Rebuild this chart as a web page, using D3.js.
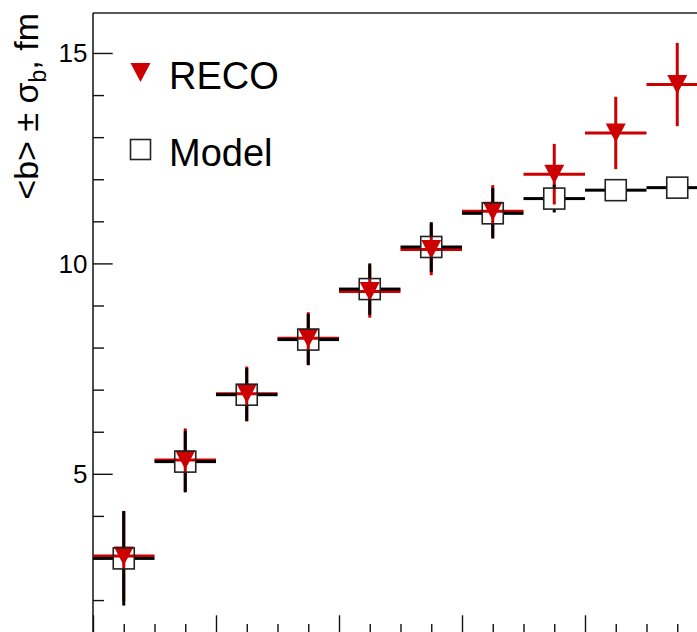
<!DOCTYPE html>
<html>
<head>
<meta charset="utf-8">
<script src="https://cdn.jsdelivr.net/npm/d3@7"></script>
<style>
  html, body { margin: 0; padding: 0; background: #fff; }
  svg { display: block; font-family: "Liberation Sans", Arial, Helvetica, sans-serif; }
</style>
</head>
<body>
<svg id="chart" width="697" height="632"></svg>
<script>
// ---- data ----
const binCenters   = [2.5, 7.5, 12.5, 17.5, 22.5, 27.5, 32.5, 37.5, 42.5, 47.5];
const binHalfWidth = 2.5;
const recoValues   = [3.05, 5.33, 6.90, 8.22, 9.33, 10.33, 11.24, 12.12, 13.10, 14.25];
const recoErrors   = [1.07, 0.75, 0.65, 0.62, 0.62, 0.61, 0.62, 0.72, 0.86, 0.99];
const modelValues  = [2.99, 5.29, 6.88, 8.19, 9.39, 10.39, 11.19, 11.54, 11.74, 11.80];
const modelErrors  = [1.12, 0.73, 0.63, 0.61, 0.61, 0.59, 0.60, 0.33, 0.20, 0.20];
const yTickLabels  = [5, 10, 15];
const legendLabels = ["RECO", "Model"];

const RED = "#cc0000";
const svg = d3.select("#chart");

const x = d3.scaleLinear().domain([0, 50]).range([93, 708]);
const y = d3.scaleLinear().domain([1.17, 15.95]).range([635, 13]);

// ---- frame ----
svg.append("line").attr("x1", x(0)).attr("x2", x(50)).attr("y1", y.range()[1]).attr("y2", y.range()[1])
  .attr("stroke", "#222").attr("stroke-width", 1.4);

// y axis
const yAxis = d3.axisRight(y).tickValues(yTickLabels).tickSize(19.7).tickFormat("");
const gy = svg.append("g").attr("transform", `translate(${x(0)},0)`).call(yAxis);
gy.select(".domain").remove();
gy.selectAll(".tick line").attr("stroke", "#111").attr("stroke-width", 1.4);
const yMinor = d3.axisRight(y).tickValues(d3.range(2, 16).filter(v => !yTickLabels.includes(v))).tickSize(11).tickFormat("");
const gym = svg.append("g").attr("transform", `translate(${x(0)},0)`).call(yMinor);
gym.select(".domain").remove();
gym.selectAll(".tick line").attr("stroke", "#111").attr("stroke-width", 1.4);
svg.append("line").attr("x1", x(0)).attr("x2", x(0)).attr("y1", y.range()[1]).attr("y2", y.range()[0])
  .attr("stroke", "#111").attr("stroke-width", 1.5);

// y tick labels
svg.append("g").selectAll("text").data(yTickLabels).join("text")
  .attr("x", 87.5).attr("y", d => y(d)).attr("dy", "0.36em")
  .attr("text-anchor", "end").attr("font-size", 26).attr("fill", "#000")
  .text(d => d);

// x axis ticks (axis line itself is just below the visible area)
const xAxis = d3.axisTop(x).tickValues([0, 10, 20, 30, 40]).tickSize(19.7).tickFormat("");
const gx = svg.append("g").attr("transform", `translate(0,${y.range()[0]})`).call(xAxis);
gx.select(".domain").remove();
gx.selectAll(".tick line").attr("stroke", "#111").attr("stroke-width", 1.4);
const xMinor = d3.axisTop(x).tickValues(d3.range(2.5, 50, 2.5).filter(v => v % 10 !== 0)).tickSize(11).tickFormat("");
const gxm = svg.append("g").attr("transform", `translate(0,${y.range()[0]})`).call(xMinor);
gxm.select(".domain").remove();
gxm.selectAll(".tick line").attr("stroke", "#111").attr("stroke-width", 1.4);
svg.append("line").attr("x1", x(0)).attr("x2", x(50)).attr("y1", y.range()[0]).attr("y2", y.range()[0])
  .attr("stroke", "#111").attr("stroke-width", 1.5);

// y title
const yt = svg.append("text")
  .attr("transform", `translate(38,13) rotate(-90)`)
  .attr("text-anchor", "end").attr("font-size", 34).attr("fill", "#000");
yt.append("tspan").text("<b> \u00b1 \u03c3");
yt.append("tspan").attr("font-size", 23).attr("dy", 8).text("b");
yt.append("tspan").attr("dy", -8).text(", fm");

// ---- data layers ----
const plot = svg.append("g");
const recoData  = binCenters.map((c, i) => ({ c, v: recoValues[i],  e: recoErrors[i] }));
const modelData = binCenters.map((c, i) => ({ c, v: modelValues[i], e: modelErrors[i] }));

// RECO (red): full error bars + filled down-triangle
const gr = plot.append("g");
gr.selectAll("line.h").data(recoData).join("line").attr("class", "h")
  .attr("x1", d => x(d.c - binHalfWidth)).attr("x2", d => x(d.c + binHalfWidth))
  .attr("y1", d => y(d.v)).attr("y2", d => y(d.v))
  .attr("stroke", RED).attr("stroke-width", 3);
gr.selectAll("line.v").data(recoData).join("line").attr("class", "v")
  .attr("x1", d => x(d.c)).attr("x2", d => x(d.c))
  .attr("y1", d => y(d.v - d.e)).attr("y2", d => y(d.v + d.e))
  .attr("stroke", RED).attr("stroke-width", 3);
const tri = "M-10,-9.5 L10,-9.5 L0,9.5 Z";
gr.selectAll("path").data(recoData).join("path")
  .attr("d", tri).attr("transform", d => `translate(${x(d.c)},${y(d.v)})`)
  .attr("fill", RED);

// Model (black): error bars outside an open square
const hs = 10.5;
const gm = plot.append("g");
const segs = [];
modelData.forEach(d => {
  const cx = x(d.c), cy = y(d.v);
  segs.push([x(d.c - binHalfWidth), cy, cx - hs, cy]);
  segs.push([cx + hs, cy, x(d.c + binHalfWidth), cy]);
  const top = y(d.v + d.e), bot = y(d.v - d.e);
  if (top < cy - hs) segs.push([cx, top, cx, cy - hs]);
  if (bot > cy + hs) segs.push([cx, cy + hs, cx, bot]);
});
gm.selectAll("line").data(segs).join("line")
  .attr("x1", s => s[0]).attr("y1", s => s[1]).attr("x2", s => s[2]).attr("y2", s => s[3])
  .attr("stroke", "#000").attr("stroke-width", 3);
gm.selectAll("rect").data(modelData).join("rect")
  .attr("x", d => x(d.c) - hs).attr("y", d => y(d.v) - hs)
  .attr("width", 2 * hs).attr("height", 2 * hs)
  .attr("fill", "none").attr("stroke", "#222").attr("stroke-width", 1.6);

// ---- legend ----
const lg = svg.append("g");
lg.append("path").attr("d", tri).attr("transform", "translate(140.5,72.5)").attr("fill", RED);
lg.append("rect").attr("x", 130.5).attr("y", 139.5).attr("width", 20).attr("height", 20)
  .attr("fill", "none").attr("stroke", "#222").attr("stroke-width", 1.6);
lg.selectAll("text").data(legendLabels).join("text")
  .attr("x", 169).attr("y", (d, i) => i === 0 ? 89.3 : 165.7)
  .attr("font-size", 38).attr("fill", "#000").text(d => d);
</script>
</body>
</html>
